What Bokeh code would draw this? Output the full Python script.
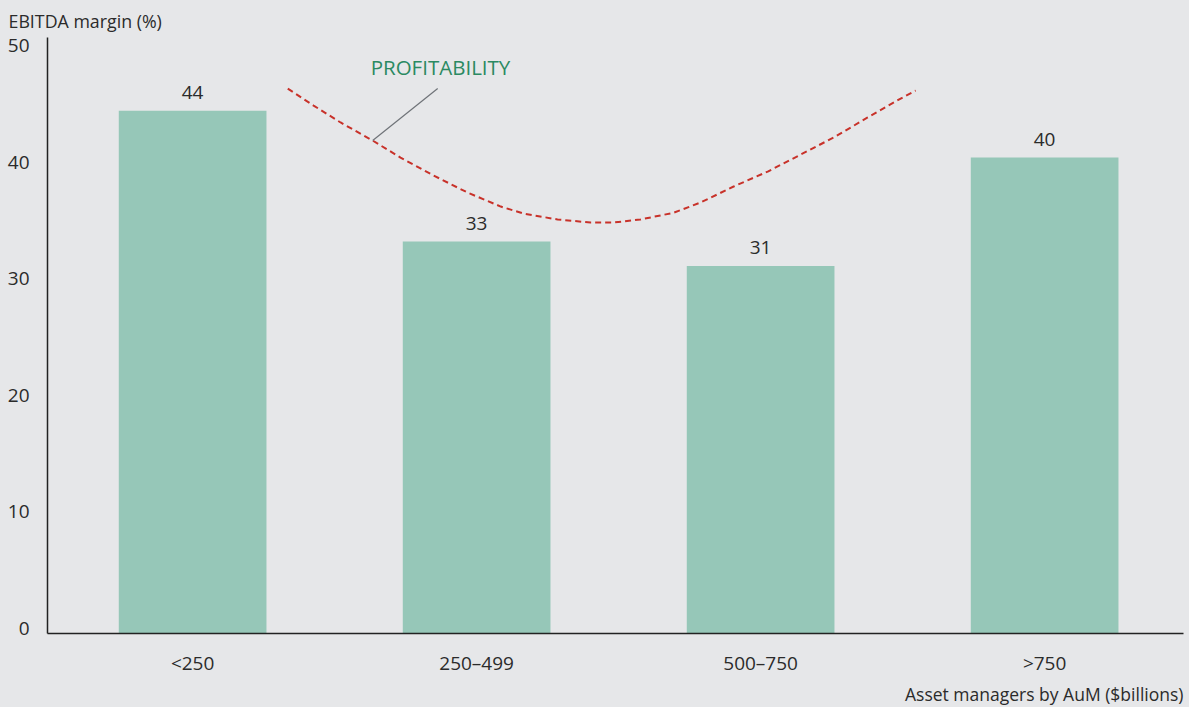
from bokeh.plotting import figure
from bokeh.models import Range1d, FixedTicker, Title
from bokeh.core.properties import value
from bokeh.embed import file_html
from bokeh.resources import INLINE

# ---- data ----
categories = ["<250", "250–499", "500–750", ">750"]
margins = [44.4, 33.2, 31.1, 40.4]
margin_labels = ["44", "33", "31", "40"]
y_ticks = [0, 10, 20, 30, 40, 50]
y_title = "EBITDA margin (%)"
x_title = "Asset managers by AuM ($billions)"
curve_label = "PROFITABILITY"
# illustrative "profitability" curve, in category-axis units
curve_x = [0.835, 0.926, 1.021, 1.134, 1.232, 1.349, 1.468, 1.585, 1.665, 1.785, 1.901,
           1.982, 2.077, 2.194, 2.289, 2.405, 2.525, 2.641, 2.757, 2.877, 2.993, 3.046]
curve_y = [46.31, 44.85, 43.40, 41.85, 40.39, 38.85, 37.39, 36.19, 35.59, 35.08, 34.82,
           34.82, 35.08, 35.66, 36.54, 37.91, 39.19, 40.65, 42.11, 43.83, 45.45, 46.14]
leader_x = [1.363, 1.134]
leader_y = [46.31, 41.85]
curve_label_pos = (1.127, 48.2)

BG = "#e6e7e9"
BAR = "#96c7b8"
TXT = "#2b2b2b"
FONT = "Open Sans"

cat_pos = [i + 0.5 for i in range(len(categories))]
Y0, Y1 = -0.43, 50.69

p = figure(width=1189, height=707, x_range=Range1d(-0.011, 3.989), y_range=Range1d(Y0, Y1),
           output_backend="svg", toolbar_location=None,
           min_border_left=47, min_border_right=6, min_border_top=37, min_border_bottom=74,
           background_fill_color=BG, border_fill_color=BG, outline_line_color=None)
p.grid.visible = False

p.vbar(x=cat_pos, top=margins, bottom=Y0, width=0.52, fill_color=BAR, line_color=None)
p.text(x=cat_pos, y=margins, text=margin_labels, y_offset=-18, text_align="center",
       text_baseline="middle", text_font=value(FONT), text_font_size="19px", text_color=TXT)

p.line(curve_x, curve_y, line_color="#c8322a", line_width=2, line_dash="6 4")
p.line(leader_x, leader_y, line_color="#6f7378", line_width=1.2)
p.text(x=[curve_label_pos[0]], y=[curve_label_pos[1]], text=[curve_label], text_align="left",
       text_baseline="middle", text_font=value(FONT), text_font_size="20.5px", text_color="#2b8a62")

# axes
ya = p.yaxis[0]
ya.ticker = FixedTicker(ticks=y_ticks)
ya.major_tick_line_color = None
ya.minor_tick_line_color = None
ya.major_tick_out = 0
ya.major_tick_in = 0
ya.major_label_standoff = 18
ya.axis_line_color = "#222222"
ya.axis_line_width = 1.5
ya.major_label_text_font = FONT
ya.major_label_text_font_size = "19px"
ya.major_label_text_color = TXT

xa = p.xaxis[0]
xa.ticker = FixedTicker(ticks=cat_pos)
xa.major_label_overrides = {pos: c for pos, c in zip(cat_pos, categories)}
xa.major_tick_line_color = None
xa.minor_tick_line_color = None
xa.major_tick_out = 0
xa.major_tick_in = 0
xa.major_label_standoff = 16
xa.axis_line_color = "#222222"
xa.axis_line_width = 1.5
xa.major_label_text_font = FONT
xa.major_label_text_font_size = "19px"
xa.major_label_text_color = TXT

p.add_layout(Title(text=y_title, align="left", offset=-39, standoff=10, text_font=FONT,
                   text_font_size="17.8px", text_font_style="normal", text_color=TXT), "above")
p.add_layout(Title(text=x_title, align="right", offset=0, standoff=3, text_font=FONT,
                   text_font_size="17.5px", text_font_style="normal", text_color=TXT), "below")

html = file_html(p, INLINE)
html = html.replace("<head>", "<head><style>html,body{background:%s;}</style>" % BG, 1)
open("out.html", "w").write(html)
